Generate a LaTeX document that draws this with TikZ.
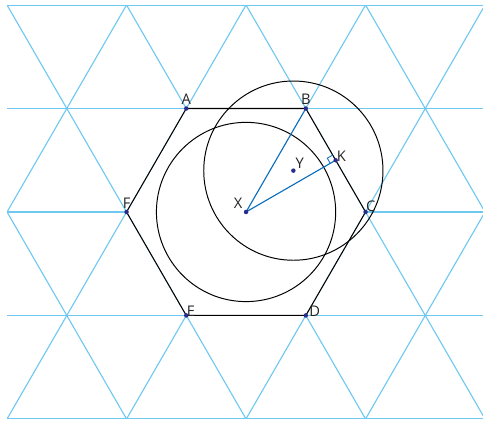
\documentclass[tikz,border=0pt]{standalone}
\usepackage{fontspec}
\setmainfont{Open Sans}
\usetikzlibrary{calc}
\definecolor{gridblue}{RGB}{110,200,240}
\definecolor{segblue}{RGB}{10,110,190}
\definecolor{dotnavy}{RGB}{40,45,140}
\tikzset{
  gridline/.style={gridblue, line width=0.8pt},
  hexline/.style={black, line width=0.75pt, line join=miter, fill=white},
  ringline/.style={black, line width=0.7pt},
  segline/.style={segblue, line width=0.8pt},
  ptdot/.style={circle, fill=dotnavy, inner sep=0pt, minimum size=3.2pt},
  ptlabel/.style={font=\fontsize{10.5}{12}\selectfont, text=black!85, inner sep=1.5pt}
}
\begin{document}
\begin{tikzpicture}[x=3cm, y=3cm]
        \useasboundingbox (-2.059,-1.749) rectangle (1.983,1.774);

        % triangular grid
        \begin{scope}
          \clip (-2,-1.7321) rectangle (2,1.7321);
          \foreach \r in {-2,...,2}
            \draw[gridline] (-2,\r*0.866) -- (2,\r*0.866);
          \foreach \k in {-5,...,5} {
            \draw[gridline] ($(\k,0)+(-1.2,-2.0785)$) -- ($(\k,0)+(1.2,2.0785)$);
            \draw[gridline] ($(\k,0)+(1.2,-2.0785)$) -- ($(\k,0)+(-1.2,2.0785)$);
          }
        \end{scope}

        \coordinate (X) at (0,0);
        \coordinate (A) at (120:1);
        \coordinate (B) at (60:1);
        \coordinate (C) at (0:1);
        \coordinate (D) at (-60:1);
        \coordinate (E) at (-120:1);
        \coordinate (F) at (180:1);
        \coordinate (Y) at (0.396,0.346);
        \coordinate (K) at ($(B)!0.5!(C)$);

        % hexagon and circles
        \draw[hexline] (A) -- (B) -- (C) -- (D) -- (E) -- (F) -- cycle;
        \draw[ringline] (X) circle (0.75);
        \draw[ringline] (Y) circle (0.75);

        % segments and right angle
        \draw[segline] (B) -- (X) -- (K);
        \coordinate (k1) at ($(K)!0.06!(X)$);
        \coordinate (k2) at ($(K)!0.1!(B)$);
        \draw[segblue, line width=0.6pt] (k1) -- ($(k1)+(k2)-(K)$) -- (k2);

        % points
        \foreach \p in {A,B,C,D,E,F,X,Y,K}
          \node[ptdot] (dot\p) at (\p) {};
        \node[ptlabel, anchor=south] (labA) at ($(A)+(0,0.01)$) {A};
        \node[ptlabel, anchor=south] (labB) at ($(B)+(0,0.01)$) {B};
        \node[ptlabel, anchor=south west] (labC) at ($(C)+(-0.015,-0.015)$) {C};
        \node[ptlabel, anchor=south west] (labD) at ($(D)+(0.01,-0.03)$) {D};
        \node[ptlabel, anchor=south west] (labE) at ($(E)+(-0.015,-0.03)$) {E};
        \node[ptlabel, anchor=south] (labF) at ($(F)+(0,0.01)$) {F};
        \node[ptlabel, anchor=south east] (labX) at ($(X)+(-0.01,0.01)$) {X};
        \node[ptlabel, anchor=south west] (labY) at ($(Y)+(0.0,0.0)$) {Y};
        \node[ptlabel, anchor=west] (labK) at ($(K)+(-0.01,0.03)$) {K};
      \end{tikzpicture}
\end{document}
